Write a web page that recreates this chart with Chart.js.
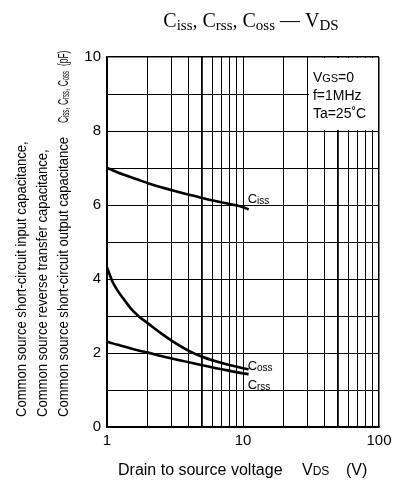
<!DOCTYPE html>
<html>
<head>
<meta charset="utf-8">
<script src="https://cdn.jsdelivr.net/npm/chart.js@4.4.1/dist/chart.umd.min.js"></script>
<style>
html,body{margin:0;padding:0;background:#fff;}
#wrap{width:403px;height:482px;position:relative;}
</style>
</head>
<body>
<div id="wrap"><canvas id="c" width="403" height="482"></canvas></div>
<script>
// ---- data ----
const vds  = [1,    1.1,  1.2,  1.35, 1.5,  1.7,  2,    2.5,  3,    4,    5,    7,    10,   11];
const ciss = [7.00, 6.94, 6.88, 6.81, 6.75, 6.68, 6.59, 6.48, 6.40, 6.28, 6.19, 6.07, 5.94, 5.88];
const coss = [4.31, 3.92, 3.68, 3.42, 3.20, 3.00, 2.80, 2.53, 2.33, 2.06, 1.90, 1.73, 1.59, 1.56];
const crss = [2.31, 2.26, 2.22, 2.17, 2.12, 2.07, 2.01, 1.92, 1.85, 1.75, 1.67, 1.56, 1.45, 1.43];
const xTickLabels = [1, 10, 100];
const yTickLabels = [0, 2, 4, 6, 8, 10];
const xGridValues = [1,2,3,4,5,6,7,8,9,10,20,30,40,50,60,70,80,90,100];
const yGridValues = [0,1,2,3,4,5,6,7,8,9,10];

const SANS = '"Liberation Sans", Arial, sans-serif';
const NARROW = '"Liberation Sans Narrow", "Liberation Sans", Arial, sans-serif';
const SERIF = '"Liberation Serif", "Times New Roman", serif';

function pts(ys){ return vds.map((x,i)=>({x:x, y:ys[i]})); }

function measure(ctx, segs){
  let w = 0;
  segs.forEach(s=>{ ctx.font = s[1]; w += ctx.measureText(s[0]).width; });
  return w;
}
function rich(ctx, x, y, segs, align){
  const w = measure(ctx, segs);
  let cx = align === 'center' ? x - w/2 : x;
  ctx.textAlign = 'left';
  ctx.textBaseline = 'alphabetic';
  segs.forEach(s=>{ ctx.font = s[1]; ctx.fillText(s[0], cx, y + (s[2]||0)); cx += ctx.measureText(s[0]).width; });
  return w;
}

const deco = {
  id: 'deco',
  beforeDatasetsDraw(chart){
    const ctx = chart.ctx, xs = chart.scales.x, ys = chart.scales.y, a = chart.chartArea;
    ctx.save();
    ctx.fillStyle = '#fff';
    const x0 = xs.getPixelForValue(30), y0 = ys.getPixelForValue(8);
    ctx.fillRect(x0 + 1, a.top + 1, a.right - x0 - 2, y0 - a.top - 2);
    ctx.restore();
  },
  afterDraw(chart){
    const ctx = chart.ctx, xs = chart.scales.x, ys = chart.scales.y;
    ctx.save();
    ctx.fillStyle = '#000';
    // title
    const big = '20px ' + SERIF, sub = '15px ' + SERIF;
    rich(ctx, 251, 27, [['C',big],['iss',sub,3],[', C',big],['rss',sub,3],[', C',big],['oss',sub,3],[' \u2014 V',big],['DS',sub,3]], 'center');
    // conditions box
    const f14 = '14px ' + SANS, f11 = '11px ' + SANS;
    const bx = xs.getPixelForValue(30) + 5;
    rich(ctx, bx, 82, [['V',f14],['GS',f11],['=0',f14]]);
    rich(ctx, bx, 100, [['f=1MHz',f14]]);
    rich(ctx, bx, 118, [['Ta=25\u02DAC',f14]]);
    // curve labels
    const f13 = '13px ' + SANS, f10 = '10px ' + SANS;
    const lx = xs.getPixelForValue(vds[vds.length-1]) - 1;
    rich(ctx, lx, ys.getPixelForValue(ciss[ciss.length-1]) - 6, [['C',f13],['iss',f10,1]]);
    rich(ctx, lx, ys.getPixelForValue(coss[coss.length-1]) + 1, [['C',f13],['oss',f10,1]]);
    rich(ctx, lx, ys.getPixelForValue(crss[crss.length-1]) + 15, [['C',f13],['rss',f10,1]]);
    // x title
    const f16 = '16px ' + SANS, f12 = '12px ' + SANS;
    rich(ctx, 118, 475, [['Drain to source voltage',f16]]);
    rich(ctx, 302, 475, [['V',f16],['DS',f12]]);
    rich(ctx, 346, 475, [['(V)',f16]]);
    // y title (rotated)
    const lines = ['Common source short-circuit input capacitance,',
                   'Common source reverse transfer capacitance,',
                   'Common source short-circuit output capacitance'];
    const yf = '14px ' + NARROW;
    ctx.font = yf;
    const k = 280 / ctx.measureText(lines[2]).width;
    const colX = [26, 47, 68];
    function vtext(x, y, segs, kk){
      ctx.save();
      ctx.translate(x, y);
      ctx.rotate(-Math.PI/2);
      ctx.scale(kk, 1);
      rich(ctx, 0, 0, segs);
      ctx.restore();
    }
    lines.forEach((t,i)=> vtext(colX[i], 417, [[t, yf]], k));
    const cf = '14px ' + NARROW, cfs = '10px ' + NARROW;
    const capSegs = [['C',cf],['iss',cfs,1],[', C',cf],['rss',cfs,1],[', C',cf],['oss',cfs,1]];
    const kc = 52 / measure(ctx, capSegs);
    vtext(colX[2], 123, capSegs, kc);
    vtext(colX[2], 66, [['(pF)',cf]], kc);
    ctx.restore();
  }
};

const lineStyle = {borderColor:'#000', borderWidth:2.6, pointRadius:0, fill:false, cubicInterpolationMode:'monotone', showLine:true};

new Chart(document.getElementById('c'), {
  type: 'line',
  data: {
    datasets: [
      Object.assign({label:'Ciss', data: pts(ciss)}, lineStyle),
      Object.assign({label:'Coss', data: pts(coss)}, lineStyle),
      Object.assign({label:'Crss', data: pts(crss)}, lineStyle)
    ]
  },
  options: {
    responsive: false,
    animation: false,
    devicePixelRatio: 1,
    layout: {padding: {top: 57, right: 24, left: 0, bottom: 0}},
    plugins: {legend:{display:false}, tooltip:{enabled:false}, title:{display:false}},
    scales: {
      x: {
        type: 'logarithmic', min: 1, max: 100,
        afterBuildTicks(s){ s.ticks = xGridValues.map(v=>({value:v})); },
        afterFit(s){ s.height = 55; },
        ticks: {autoSkip:false, maxRotation:0, padding:5, color:'#000', font:{family:SANS, size:15},
          callback(v){ return xTickLabels.includes(v) ? String(v) : ''; }},
        grid: {color:'#000', drawTicks:false,
          lineWidth(c){ const v = c.tick && c.tick.value; return (v===5||v===50)?1.8:(v===100?1.5:1); }},
        border: {color:'#000', width:1.5}
      },
      y: {
        type: 'linear', min: 0, max: 10,
        afterBuildTicks(s){ s.ticks = yGridValues.map(v=>({value:v})); },
        afterFit(s){ s.width = 107; },
        ticks: {autoSkip:false, padding:6, color:'#000', font:{family:SANS, size:15},
          callback(v){ return yTickLabels.includes(v) ? String(v) : ''; }},
        grid: {color:'#000', drawTicks:false,
          lineWidth(c){ const v = c.tick && c.tick.value; return v===10?1.5:1; }},
        border: {color:'#000', width:1.5}
      }
    }
  },
  plugins: [deco]
});
</script>
</body>
</html>
